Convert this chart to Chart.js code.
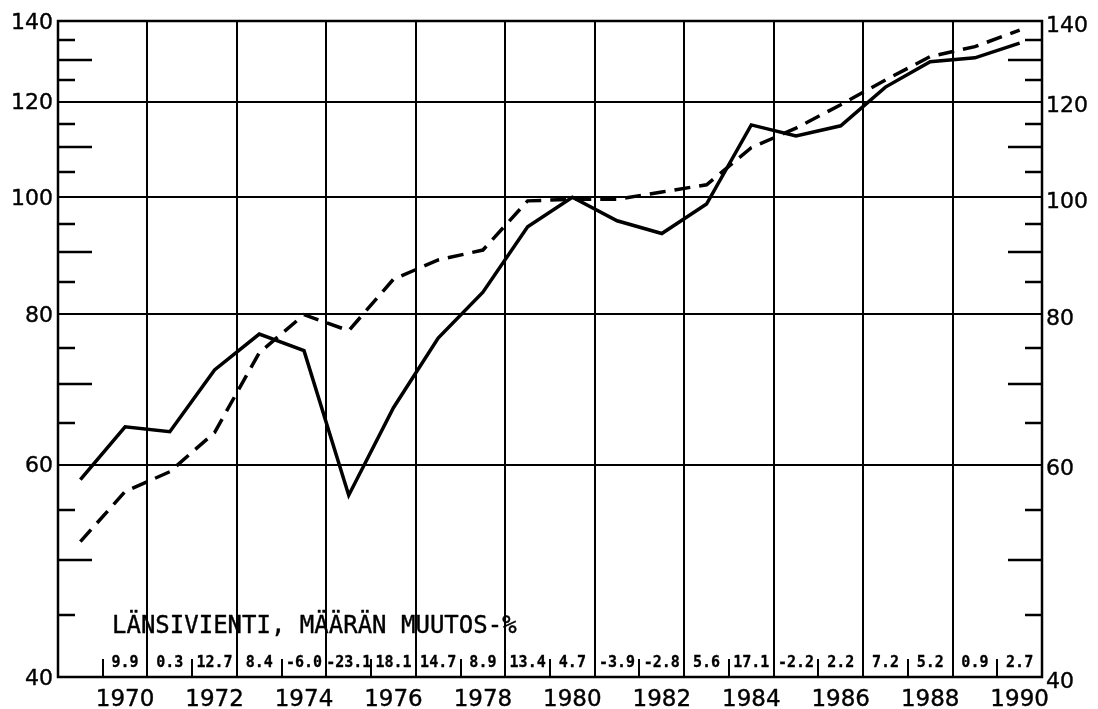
<!DOCTYPE html>
<html><head><meta charset="utf-8">
<script src="https://cdn.jsdelivr.net/npm/chart.js@4"></script>
<style>html,body{margin:0;padding:0;background:#fff}</style>
</head><body>
<canvas id="c" width="1098" height="709"></canvas>
<script>
// ---- data ----
const years = [1969,1970,1971,1972,1973,1974,1975,1976,1977,1978,1979,1980,1981,1982,1983,1984,1985,1986,1987,1988,1989,1990];
const solidSeries = [58.3,64.5,63.9,71.9,77.0,74.6,56.6,66.9,76.4,83.4,94.5,100.0,95.6,93.3,98.7,114.8,112.4,114.6,123.4,129.5,130.5,134.2];
const dashedSeries = [51.8,57.0,59.2,63.8,74.3,79.9,77.5,85.5,88.7,90.4,99.3,99.6,99.6,101.0,102.4,109.9,114.1,119.3,125.1,130.8,133.3,137.6];
const changeYears = [1970,1971,1972,1973,1974,1975,1976,1977,1978,1979,1980,1981,1982,1983,1984,1985,1986,1987,1988,1989,1990];
const changeLabels = ["9.9","0.3","12.7","8.4","-6.0","-23.1","18.1","14.7","8.9","13.4","4.7","-3.9","-2.8","5.6","17.1","-2.2","2.2","7.2","5.2","0.9","2.7"];
const xTickLabels = [1970,1972,1974,1976,1978,1980,1982,1984,1986,1988,1990];
const yTickLabels = [40,60,80,100,120,140];
const yGridValues = [60,80,100,120];
const yMinorLong = [50,70,90,110,130];
const yMinorShort = [45,55,65,75,85,95,105,115,125,135];
const xGridValues = [1970.5,1972.5,1974.5,1976.5,1978.5,1980.5,1982.5,1984.5,1986.5,1988.5];
const xSmallTicks = [1969.5,1971.5,1973.5,1975.5,1977.5,1979.5,1981.5,1983.5,1985.5,1987.5,1989.5];
const titleText = "LÄNSIVIENTI, MÄÄRÄN MUUTOS-%";

function heavyText(ctx, t, x, y, w) {
  if (w > 0) { ctx.lineWidth = w; ctx.strokeText(t, x, y); }
  ctx.fillText(t, x, y);
}

const deco = {
  id: 'deco',
  beforeDatasetsDraw(chart) {
    const {ctx, chartArea: a, scales: {x, y}} = chart;
    ctx.save();
    ctx.strokeStyle = '#000';
    ctx.lineCap = 'butt';
    ctx.lineWidth = 2;
    yGridValues.forEach(v => {
      const py = Math.round(y.getPixelForValue(v));
      ctx.beginPath(); ctx.moveTo(a.left, py); ctx.lineTo(a.right, py); ctx.stroke();
    });
    xGridValues.forEach(v => {
      const px = Math.round(x.getPixelForValue(v));
      ctx.beginPath(); ctx.moveTo(px, a.top); ctx.lineTo(px, a.bottom); ctx.stroke();
    });
    xSmallTicks.forEach(v => {
      const px = Math.round(x.getPixelForValue(v));
      ctx.beginPath(); ctx.moveTo(px, a.bottom); ctx.lineTo(px, a.bottom - 18); ctx.stroke();
    });
    ctx.lineWidth = 2.5;
    const tick = (v, len) => {
      const py = Math.round(y.getPixelForValue(v));
      ctx.beginPath(); ctx.moveTo(a.left, py); ctx.lineTo(a.left + len, py); ctx.stroke();
      ctx.beginPath(); ctx.moveTo(a.right, py); ctx.lineTo(a.right - len, py); ctx.stroke();
    };
    yMinorLong.forEach(v => tick(v, 34));
    yMinorShort.forEach(v => tick(v, 17));
    ctx.lineWidth = 2.5;
    ctx.strokeRect(a.left, a.top, a.right - a.left, a.bottom - a.top);
    ctx.restore();
  },
  afterDraw(chart) {
    const {ctx, chartArea: a, scales: {x, y}} = chart;
    ctx.save();
    ctx.fillStyle = '#000';
    ctx.strokeStyle = '#000';
    ctx.lineJoin = 'round';
    ctx.font = '22px "DejaVu Sans"';
    ctx.textBaseline = 'middle';
    yTickLabels.forEach(v => {
      const py = y.getPixelForValue(v);
      ctx.textAlign = 'right';
      heavyText(ctx, String(v), a.left - 5, py + 2, 0.4);
      ctx.textAlign = 'left';
      heavyText(ctx, String(v), a.right + 4, py + 5, 0.4);
    });
    ctx.font = '23px "DejaVu Sans"';
    ctx.textAlign = 'center';
    ctx.textBaseline = 'alphabetic';
    xTickLabels.forEach(v => {
      heavyText(ctx, String(v), x.getPixelForValue(v), 706, 0.4);
    });
    ctx.font = '24px "DejaVu Sans Mono"';
    ctx.textAlign = 'left';
    heavyText(ctx, titleText, 112, 633, 0.4);
    ctx.font = 'bold 15px "DejaVu Sans Mono"';
    ctx.textAlign = 'center';
    changeYears.forEach((yr, i) => {
      heavyText(ctx, changeLabels[i], x.getPixelForValue(yr), 667, 0.3);
    });
    ctx.restore();
  }
};

new Chart(document.getElementById('c'), {
  type: 'line',
  data: {
    datasets: [
      { label: 'solid', data: years.map((yr, i) => ({x: yr, y: solidSeries[i]})),
        borderColor: '#000', borderWidth: 3.5, pointRadius: 0, tension: 0, fill: false },
      { label: 'dashed', data: years.map((yr, i) => ({x: yr, y: dashedSeries[i]})),
        borderColor: '#000', borderWidth: 3.5, borderDash: [16, 9], pointRadius: 0, tension: 0, fill: false }
    ]
  },
  options: {
    responsive: false,
    animation: false,
    devicePixelRatio: 1,
    layout: { padding: { left: 58, right: 56, top: 21, bottom: 32 } },
    scales: {
      x: { type: 'linear', min: 1968.5, max: 1990.5, display: false },
      y: { type: 'logarithmic', min: 40, max: 140, display: false }
    },
    plugins: { legend: { display: false }, tooltip: { enabled: false } }
  },
  plugins: [deco]
});
</script>
</body></html>
